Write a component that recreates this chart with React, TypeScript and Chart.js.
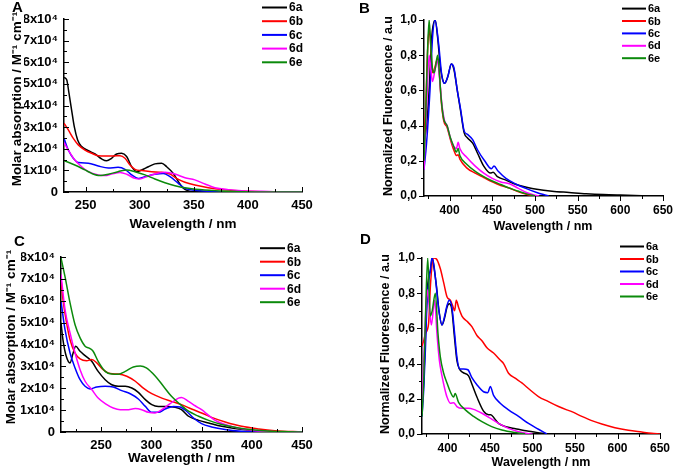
import React, { useEffect, useRef } from 'react';
import { Chart, registerables } from 'chart.js';

Chart.register(...registerables);

const FONT = "'Liberation Sans', Arial, Helvetica, sans-serif";
const SERIES_LABELS = ['6a', '6b', '6c', '6d', '6e'];
const SERIES_COLORS = ['#000000', '#ff0000', '#0000ff', '#ff00ff', '#0b8a0b'];

// ---------- Panel A: absorption (values in units of 10^4 M^-1 cm^-1) ----------
const A_X_6A = [230, 232.5, 234.6, 237, 239.5, 242.6, 246.3, 252.5, 258.7, 264.8, 269.4, 274, 278.7, 283.3, 287.9, 292.5, 297.2, 301.8, 308, 314, 320.3, 324.9, 331, 335.7, 340.3, 345, 351, 360, 380, 450];
const A_Y_6A = [5.3, 5.19, 4.57, 3.8, 3.02, 2.41, 2.1, 1.91, 1.76, 1.53, 1.44, 1.56, 1.76, 1.79, 1.64, 1.17, 0.94, 1.02, 1.17, 1.3, 1.33, 1.17, 0.86, 0.48, 0.17, 0.05, 0.01, 0, 0, 0];
const A_X_6B = [230, 234, 238.6, 243.2, 249.4, 255.6, 261.7, 267.9, 275.6, 281.8, 286.4, 291, 295.6, 301.8, 311, 320.3, 328, 334, 341.8, 351, 363.4, 375.7, 391, 406.5, 422, 450];
const A_Y_6B = [3.18, 2.87, 2.48, 2.18, 1.94, 1.79, 1.68, 1.67, 1.67, 1.68, 1.56, 1.25, 1.05, 0.99, 0.94, 0.91, 0.83, 0.63, 0.45, 0.32, 0.2, 0.12, 0.06, 0.02, 0, 0];
const A_X_6C = [230, 234, 238.6, 243.2, 252.5, 261.7, 271, 280, 286.4, 292.5, 298.7, 304.9, 314, 321.8, 328, 335.7, 341.8, 351, 366.5, 382, 450];
const A_Y_6C = [2.48, 1.94, 1.56, 1.36, 1.33, 1.2, 1.11, 1.14, 1.05, 0.79, 0.63, 0.71, 0.82, 0.86, 0.71, 0.4, 0.17, 0.08, 0.03, 0, 0];
const A_X_6D = [230, 234, 240, 246.3, 252.5, 261.7, 268, 274, 281.8, 288, 295.6, 300, 306.4, 314, 323.3, 332.6, 341.8, 351, 360.3, 369.5, 381.9, 394.2, 412.7, 434, 450];
const A_Y_6D = [2.28, 1.94, 1.48, 1.17, 0.94, 0.79, 0.76, 0.83, 0.9, 0.82, 0.63, 0.6, 0.71, 0.83, 0.91, 0.83, 0.66, 0.56, 0.37, 0.2, 0.11, 0.06, 0.03, 0, 0];
const A_X_6E = [230, 240, 249.4, 255.6, 263.3, 271, 280, 288, 295.6, 304.9, 314, 323.3, 332.6, 345, 360, 382, 406.5, 450];
const A_Y_6E = [1.45, 1.25, 1.02, 0.86, 0.76, 0.82, 0.94, 1.02, 0.94, 0.79, 0.6, 0.43, 0.29, 0.17, 0.09, 0.03, 0, 0];

// ---------- Panel B: normalized fluorescence ----------
const B_X_6A = [370, 373, 376, 379, 383, 386, 389, 391, 394, 398, 402, 405, 409, 413, 417, 421, 427, 433, 440, 448, 451, 456, 466, 478, 490, 502, 520, 540, 560, 580, 600, 625, 648];
const B_Y_6A = [0.3, 0.4, 0.6, 0.9, 1.0, 0.9, 0.74, 0.68, 0.64, 0.68, 0.75, 0.72, 0.6, 0.48, 0.36, 0.33, 0.3, 0.24, 0.17, 0.13, 0.135, 0.11, 0.09, 0.065, 0.05, 0.038, 0.027, 0.02, 0.013, 0.008, 0.005, 0.002, 0];
const B_X_6B = [370, 372, 374, 376, 378, 380, 382, 386, 388, 390, 393, 397, 401, 405, 408, 410, 412, 420, 430, 440, 450, 460, 470, 480, 490, 498];
const B_Y_6B = [0.35, 0.5, 0.8, 0.95, 0.85, 0.7, 0.72, 0.78, 0.7, 0.55, 0.43, 0.39, 0.32, 0.26, 0.23, 0.235, 0.21, 0.16, 0.13, 0.105, 0.08, 0.06, 0.045, 0.025, 0.01, 0];
const B_X_6C = [370, 373, 377, 380, 383, 387, 391, 394, 398, 402, 405, 409, 413, 417, 421, 427, 433, 441, 449, 452, 457, 466, 478, 490, 502, 510, 516];
const B_Y_6C = [0.15, 0.3, 0.6, 0.9, 1.0, 0.87, 0.68, 0.64, 0.68, 0.75, 0.73, 0.6, 0.49, 0.37, 0.35, 0.32, 0.26, 0.2, 0.155, 0.17, 0.14, 0.1, 0.067, 0.042, 0.02, 0.008, 0];
const B_X_6D = [370, 373, 376, 378, 380, 383, 386, 388, 391, 394, 397, 401, 405, 408, 410, 412, 420, 430, 440, 450, 460, 470, 480, 490, 500, 505];
const B_Y_6D = [0.15, 0.5, 0.8, 0.72, 0.65, 0.72, 0.77, 0.68, 0.52, 0.43, 0.4, 0.33, 0.28, 0.27, 0.305, 0.27, 0.22, 0.17, 0.13, 0.1, 0.08, 0.07, 0.045, 0.02, 0.005, 0];
const B_X_6E = [370, 372, 374, 376, 378, 380, 382, 386, 388, 390, 393, 397, 401, 405, 408, 410, 412, 420, 430, 440, 450, 460, 470, 480, 490, 500];
const B_Y_6E = [0.2, 0.45, 0.8, 1.0, 0.85, 0.72, 0.7, 0.8, 0.7, 0.56, 0.44, 0.4, 0.33, 0.28, 0.25, 0.27, 0.23, 0.18, 0.14, 0.11, 0.085, 0.065, 0.045, 0.028, 0.012, 0];

// ---------- Panel C: absorption (values in units of 10^4 M^-1 cm^-1) ----------
const C_X_6A = [210, 212, 215, 219, 222, 224.6, 229, 234, 240.6, 247, 254, 260.5, 267, 274, 280.5, 287, 294, 300.4, 307, 315, 323.7, 330, 337, 347, 357, 370, 387, 403.5, 420, 437, 450];
const C_Y_6A = [5.0, 4.2, 3.5, 3.16, 3.6, 3.92, 3.69, 3.49, 3.23, 2.77, 2.39, 2.16, 2.09, 2.09, 2.01, 1.81, 1.48, 1.25, 1.17, 1.17, 1.13, 1.02, 0.72, 0.53, 0.41, 0.26, 0.14, 0.06, 0.02, 0, 0];
const C_X_6B = [210, 212, 215.6, 219, 224, 229, 235.6, 240.6, 245.6, 252, 259, 267, 275.5, 284, 292, 300.4, 310.4, 320, 330, 340, 350, 360, 373.5, 390, 407, 423, 450];
const C_Y_6B = [7.0, 6.05, 4.98, 4.22, 3.61, 3.34, 3.26, 3.31, 3.16, 2.85, 2.67, 2.65, 2.55, 2.32, 2.01, 1.75, 1.55, 1.4, 1.25, 1.05, 0.87, 0.67, 0.46, 0.26, 0.14, 0.06, 0];
const C_X_6C = [210, 214, 219, 224, 229, 234, 239, 245.6, 254, 262, 270.5, 279, 287, 294, 300.4, 307, 313.7, 322, 328.7, 335, 342, 350, 360, 373.5, 390, 403.5, 450];
const C_Y_6C = [5.98, 4.68, 3.61, 2.93, 2.39, 2.09, 1.97, 2.06, 2.09, 2.06, 1.89, 1.75, 1.51, 1.17, 0.9, 0.9, 1.05, 1.17, 1.14, 0.95, 0.64, 0.38, 0.23, 0.11, 0.03, 0, 0];
const C_X_6D = [210, 214, 219, 224, 229, 234, 240.6, 247, 254, 262, 269, 275.5, 284, 290.4, 297, 303.7, 310.4, 318.7, 327, 330, 337, 343.6, 350, 357, 363.6, 373.5, 387, 403.5, 423, 437, 450];
const C_Y_6D = [7.2, 5.6, 4.53, 3.61, 2.85, 2.32, 1.94, 1.55, 1.3, 1.1, 1.02, 1.02, 1.07, 1.02, 0.9, 0.87, 1.02, 1.3, 1.55, 1.58, 1.4, 1.2, 1.02, 0.76, 0.53, 0.34, 0.17, 0.06, 0.015, 0, 0];
const C_X_6E = [210, 214, 219, 224, 229, 234, 239, 242, 247, 254, 260.5, 267, 274, 282, 289, 295, 304, 312, 320, 329, 337, 347, 357, 370, 387, 403, 420, 437, 450];
const C_Y_6E = [7.96, 7.1, 5.9, 4.9, 4.3, 3.92, 3.81, 3.69, 3.23, 2.77, 2.65, 2.64, 2.77, 2.97, 3.02, 2.93, 2.55, 2.09, 1.63, 1.25, 0.95, 0.72, 0.53, 0.34, 0.18, 0.09, 0.03, 0.015, 0];

// ---------- Panel D: normalized fluorescence ----------
const D_X_6A = [370, 372, 374, 376, 378, 380, 382, 384, 387, 390, 393.5, 396.6, 399.4, 402, 405, 408, 411, 414, 418, 424.8, 429, 434.6, 442.4, 448.3, 451, 455, 460, 470, 480, 490, 500, 511, 520];
const D_Y_6A = [0.15, 0.3, 0.55, 0.8, 0.9, 0.93, 1.0, 0.95, 0.84, 0.7, 0.62, 0.66, 0.72, 0.74, 0.71, 0.56, 0.42, 0.37, 0.35, 0.33, 0.28, 0.21, 0.13, 0.11, 0.11, 0.09, 0.06, 0.04, 0.03, 0.02, 0.013, 0.004, 0];
const D_X_6B = [370, 372, 374, 377.8, 380, 383.7, 387.6, 391.5, 395.5, 399.4, 403.3, 406, 408.4, 410.3, 413, 417, 423, 428.7, 434.6, 440.5, 446.4, 454.2, 462, 466, 471.8, 479.6, 487.5, 497.3, 507, 518.8, 530.6, 540.3, 546.2, 558, 569.7, 581.5, 597, 612.8, 628.5, 640, 650];
const D_Y_6B = [0.5, 0.53, 0.57, 0.63, 0.85, 1.0, 0.99, 0.94, 0.86, 0.78, 0.76, 0.73, 0.7, 0.76, 0.72, 0.67, 0.64, 0.61, 0.56, 0.53, 0.49, 0.46, 0.42, 0.4, 0.345, 0.317, 0.29, 0.25, 0.213, 0.184, 0.156, 0.137, 0.127, 0.1, 0.076, 0.057, 0.036, 0.021, 0.011, 0.004, 0];
const D_X_6C = [370, 372, 374, 376, 377.8, 379.8, 381.7, 383.7, 386.4, 389.6, 393.5, 396.6, 399.4, 402, 405.2, 408.4, 411, 414.2, 419, 424, 428.7, 434.6, 442.4, 447.5, 450.3, 454.2, 462, 471.8, 483.6, 495.3, 507, 516.8];
const D_Y_6C = [0.1, 0.25, 0.48, 0.76, 0.86, 0.93, 1.0, 0.97, 0.86, 0.71, 0.62, 0.67, 0.73, 0.76, 0.72, 0.57, 0.44, 0.37, 0.37, 0.365, 0.32, 0.28, 0.24, 0.235, 0.27, 0.22, 0.175, 0.137, 0.1, 0.06, 0.027, 0];
const D_X_6D = [370, 372, 374, 376, 378, 381, 384.9, 387.6, 390.4, 393.5, 396.6, 399.4, 403.3, 407.2, 411, 417, 424.8, 430.7, 440.5, 450.3, 460, 471.8, 483.6, 495.3, 500];
const D_Y_6D = [0.12, 0.4, 0.65, 0.82, 0.75, 0.62, 0.76, 0.57, 0.42, 0.33, 0.26, 0.21, 0.175, 0.178, 0.156, 0.146, 0.146, 0.14, 0.118, 0.09, 0.06, 0.032, 0.013, 0.002, 0];
const D_X_6E = [370, 372, 374, 376.7, 379.8, 382, 385.7, 388.8, 391.5, 395.5, 399.4, 403.3, 407.2, 409, 413, 421, 430.7, 440.5, 452, 464, 479.6, 491.4];
const D_Y_6E = [0.1, 0.3, 0.65, 1.0, 0.67, 0.7, 0.8, 0.57, 0.44, 0.345, 0.29, 0.24, 0.21, 0.23, 0.18, 0.137, 0.1, 0.07, 0.042, 0.023, 0.008, 0];

// ---------- Ticks ----------
const ABS_Y_TICKS = [0, 1, 2, 3, 4, 5, 6, 7, 8];
const ABS_Y_MINOR = [0.5, 1.5, 2.5, 3.5, 4.5, 5.5, 6.5, 7.5];
const A_X_TICKS = [250, 300, 350, 400, 450];
const A_X_MINOR = [275, 325, 375, 425];
const C_X_TICKS = [250, 300, 350, 400, 450];
const C_X_MINOR = [225, 275, 325, 375, 425];
const FL_X_TICKS = [400, 450, 500, 550, 600, 650];
const FL_X_MINOR = [375, 425, 475, 525, 575, 625];
const FL_Y_TICKS = [0, 0.2, 0.4, 0.6, 0.8, 1.0];
const FL_Y_MINOR = [0.1, 0.3, 0.5, 0.7, 0.9];

const X_TITLE = 'Wavelength / nm';
const ABS_TITLE = 'Molar absorption / M\u207B\u00B9 cm\u207B\u00B9';
const FL_TITLE = 'Normalized Fluorescence / a.u';

const absFmt = (v: number) => (v === 0 ? '0' : `${v}x10\u2074`);
const flFmt = (v: number) => v.toFixed(1).replace('.', ',');

type PanelCfg = {
  letter: string; letterX: number; letterY: number;
  area: { l: number; r: number; t: number; b: number };
  xMin: number; xMax: number; yMax: number;
  xMajor: number[]; xMinor: number[]; yMajor: number[]; yMinor: number[];
  yFmt: (v: number) => string;
  ticksOut: boolean; tickSize: number; xTickPad: number; yTickPad: number;
  xTitle: string; xTitleX: number; xTitleY: number; xTitleSize: number;
  yTitle: string; yTitleX: number; yTitleY: number; yTitleSize: number;
  leg: { x1: number; x2: number; tx: number; y0: number; dy: number; size: number };
  xs: number[][]; ys: number[][];
};

const PANELS: PanelCfg[] = [
  {
    letter: 'A', letterX: 12, letterY: 12,
    area: { l: 64, r: 302, t: 19, b: 192 },
    xMin: 230, xMax: 450, yMax: 8,
    xMajor: A_X_TICKS, xMinor: A_X_MINOR, yMajor: ABS_Y_TICKS, yMinor: ABS_Y_MINOR,
    yFmt: absFmt, ticksOut: false, tickSize: 13, xTickPad: 6, yTickPad: 6,
    xTitle: X_TITLE, xTitleX: 183, xTitleY: 228, xTitleSize: 13.5,
    yTitle: ABS_TITLE, yTitleX: 20.5, yTitleY: 99, yTitleSize: 13.5,
    leg: { x1: 262, x2: 287, tx: 289, y0: 7.5, dy: 13.7, size: 12 },
    xs: [A_X_6A, A_X_6B, A_X_6C, A_X_6D, A_X_6E],
    ys: [A_Y_6A, A_Y_6B, A_Y_6C, A_Y_6D, A_Y_6E],
  },
  {
    letter: 'B', letterX: 359, letterY: 13,
    area: { l: 424, r: 663, t: 20, b: 196 },
    xMin: 370, xMax: 650, yMax: 1,
    xMajor: FL_X_TICKS, xMinor: FL_X_MINOR, yMajor: FL_Y_TICKS, yMinor: FL_Y_MINOR,
    yFmt: flFmt, ticksOut: true, tickSize: 12, xTickPad: 7, yTickPad: 7,
    xTitle: X_TITLE, xTitleX: 543, xTitleY: 230, xTitleSize: 12.5,
    yTitle: FL_TITLE, yTitleX: 392, yTitleY: 106, yTitleSize: 12.5,
    leg: { x1: 622, x2: 646, tx: 648, y0: 8.6, dy: 12.4, size: 11 },
    xs: [B_X_6A, B_X_6B, B_X_6C, B_X_6D, B_X_6E],
    ys: [B_Y_6A, B_Y_6B, B_Y_6C, B_Y_6D, B_Y_6E],
  },
  {
    letter: 'C', letterX: 14, letterY: 246,
    area: { l: 61, r: 302, t: 257, b: 432 },
    xMin: 210, xMax: 450, yMax: 8,
    xMajor: C_X_TICKS, xMinor: C_X_MINOR, yMajor: ABS_Y_TICKS, yMinor: ABS_Y_MINOR,
    yFmt: absFmt, ticksOut: false, tickSize: 13, xTickPad: 6, yTickPad: 6,
    xTitle: X_TITLE, xTitleX: 181.5, xTitleY: 462, xTitleSize: 13.5,
    yTitle: ABS_TITLE, yTitleX: 15, yTitleY: 337, yTitleSize: 13.5,
    leg: { x1: 260, x2: 285, tx: 287, y0: 248.2, dy: 13.5, size: 12 },
    xs: [C_X_6A, C_X_6B, C_X_6C, C_X_6D, C_X_6E],
    ys: [C_Y_6A, C_Y_6B, C_Y_6C, C_Y_6D, C_Y_6E],
  },
  {
    letter: 'D', letterX: 360, letterY: 244,
    area: { l: 422, r: 660, t: 258, b: 434 },
    xMin: 370, xMax: 650, yMax: 1,
    xMajor: FL_X_TICKS, xMinor: FL_X_MINOR, yMajor: FL_Y_TICKS, yMinor: FL_Y_MINOR,
    yFmt: flFmt, ticksOut: true, tickSize: 12, xTickPad: 7, yTickPad: 7,
    xTitle: X_TITLE, xTitleX: 541, xTitleY: 466, xTitleSize: 12.5,
    yTitle: FL_TITLE, yTitleX: 389, yTitleY: 344, yTitleSize: 12.5,
    leg: { x1: 620, x2: 644, tx: 646, y0: 246.5, dy: 12.5, size: 11 },
    xs: [D_X_6A, D_X_6B, D_X_6C, D_X_6D, D_X_6E],
    ys: [D_Y_6A, D_Y_6B, D_Y_6C, D_Y_6D, D_Y_6E],
  },
];

const CW = 720;
const CH = 470;
const YW = 40;
const XH = 40;

function drawDecor(chart: any, p: PanelCfg) {
  const ctx = chart.ctx as CanvasRenderingContext2D;
  const xs = chart.scales.x;
  const ys = chart.scales.y;
  const { left, bottom } = chart.chartArea;
  ctx.save();
  ctx.strokeStyle = '#000';
  ctx.lineWidth = 1;
  const d = p.ticksOut ? 1 : -1;
  const seg = (x1: number, y1: number, x2: number, y2: number) => {
    ctx.beginPath();
    ctx.moveTo(x1, y1);
    ctx.lineTo(x2, y2);
    ctx.stroke();
  };
  const xt = (v: number, len: number) => {
    const px = Math.round(xs.getPixelForValue(v)) + 0.5;
    seg(px, bottom, px, bottom + d * len);
  };
  const yt = (v: number, len: number) => {
    const py = Math.round(ys.getPixelForValue(v)) + 0.5;
    seg(left, py, left - d * len, py);
  };
  p.xMajor.forEach((v) => xt(v, 5));
  p.xMinor.forEach((v) => xt(v, 3));
  p.yMajor.forEach((v) => yt(v, 5));
  p.yMinor.forEach((v) => yt(v, 3));

  // legend
  SERIES_LABELS.forEach((lab, i) => {
    const y = p.leg.y0 + i * p.leg.dy;
    ctx.strokeStyle = SERIES_COLORS[i];
    ctx.lineWidth = 2;
    seg(p.leg.x1, y, p.leg.x2, y);
    ctx.fillStyle = '#000';
    ctx.font = `bold ${p.leg.size}px ${FONT}`;
    ctx.textAlign = 'left';
    ctx.textBaseline = 'middle';
    ctx.fillText(lab, p.leg.tx, y + 0.5);
  });

  // panel letter
  ctx.fillStyle = '#000';
  ctx.font = `bold 15px ${FONT}`;
  ctx.textAlign = 'left';
  ctx.textBaseline = 'alphabetic';
  ctx.fillText(p.letter, p.letterX, p.letterY);

  // x title
  ctx.font = `bold ${p.xTitleSize}px ${FONT}`;
  ctx.textAlign = 'center';
  ctx.fillText(p.xTitle, p.xTitleX, p.xTitleY);

  // y title
  ctx.save();
  ctx.translate(p.yTitleX, p.yTitleY);
  ctx.rotate(-Math.PI / 2);
  ctx.font = `bold ${p.yTitleSize}px ${FONT}`;
  ctx.textAlign = 'center';
  ctx.textBaseline = 'alphabetic';
  ctx.fillText(p.yTitle, 0, 0);
  ctx.restore();

  ctx.restore();
}

function PanelChart({ p }: { p: PanelCfg }) {
  const ref = useRef<HTMLCanvasElement>(null);
  useEffect(() => {
    const canvas = ref.current;
    if (!canvas) return;
    const chart = new Chart(canvas, {
      type: 'line',
      data: {
        datasets: p.xs.map((xArr, i) => ({
          label: SERIES_LABELS[i],
          data: xArr.map((x, j) => ({ x, y: p.ys[i][j] })),
          borderColor: SERIES_COLORS[i],
          backgroundColor: SERIES_COLORS[i],
          borderWidth: 1.5,
          pointRadius: 0,
          fill: false,
          cubicInterpolationMode: 'monotone' as const,
          order: 4 - i,
        })),
      },
      options: {
        responsive: false,
        animation: false,
        events: [],
        layout: {
          padding: {
            left: p.area.l - YW,
            top: p.area.t,
            right: CW - p.area.r,
            bottom: CH - p.area.b - XH,
          },
        },
        plugins: { legend: { display: false }, tooltip: { enabled: false } },
        scales: {
          x: {
            type: 'linear',
            min: p.xMin,
            max: p.xMax,
            afterFit: (s: any) => { s.height = XH; },
            afterBuildTicks: (s: any) => { s.ticks = p.xMajor.map((v) => ({ value: v })); },
            grid: { drawOnChartArea: false, drawTicks: false },
            border: { display: true, color: '#000', width: 1.5 },
            ticks: {
              color: '#000',
              font: { family: FONT, size: p.tickSize, weight: 'bold' },
              padding: p.xTickPad,
              maxRotation: 0,
              autoSkip: false,
              callback: (v: any) => String(v),
            },
          },
          y: {
            type: 'linear',
            min: 0,
            max: p.yMax,
            afterFit: (s: any) => { s.width = YW; },
            afterBuildTicks: (s: any) => { s.ticks = p.yMajor.map((v) => ({ value: v })); },
            grid: { drawOnChartArea: false, drawTicks: false },
            border: { display: true, color: '#000', width: 1.5 },
            ticks: {
              color: '#000',
              font: { family: FONT, size: p.tickSize, weight: 'bold' },
              padding: p.yTickPad,
              autoSkip: false,
              callback: (v: any) => p.yFmt(Number(v)),
            },
          },
        },
      } as any,
      plugins: [{ id: 'decor' + p.letter, afterDraw: (c: any) => drawDecor(c, p) }],
    });
    return () => chart.destroy();
  }, [p]);
  return (
    <canvas
      ref={ref}
      width={CW}
      height={CH}
      style={{ position: 'absolute', left: 0, top: 0, width: CW, height: CH }}
    />
  );
}

export default function App() {
  return (
    <div
      style={{
        position: 'absolute',
        left: 0,
        top: 0,
        width: 673,
        height: 470,
        overflow: 'hidden',
        background: '#ffffff',
      }}
    >
      {PANELS.map((p) => (
        <PanelChart key={p.letter} p={p} />
      ))}
    </div>
  );
}
